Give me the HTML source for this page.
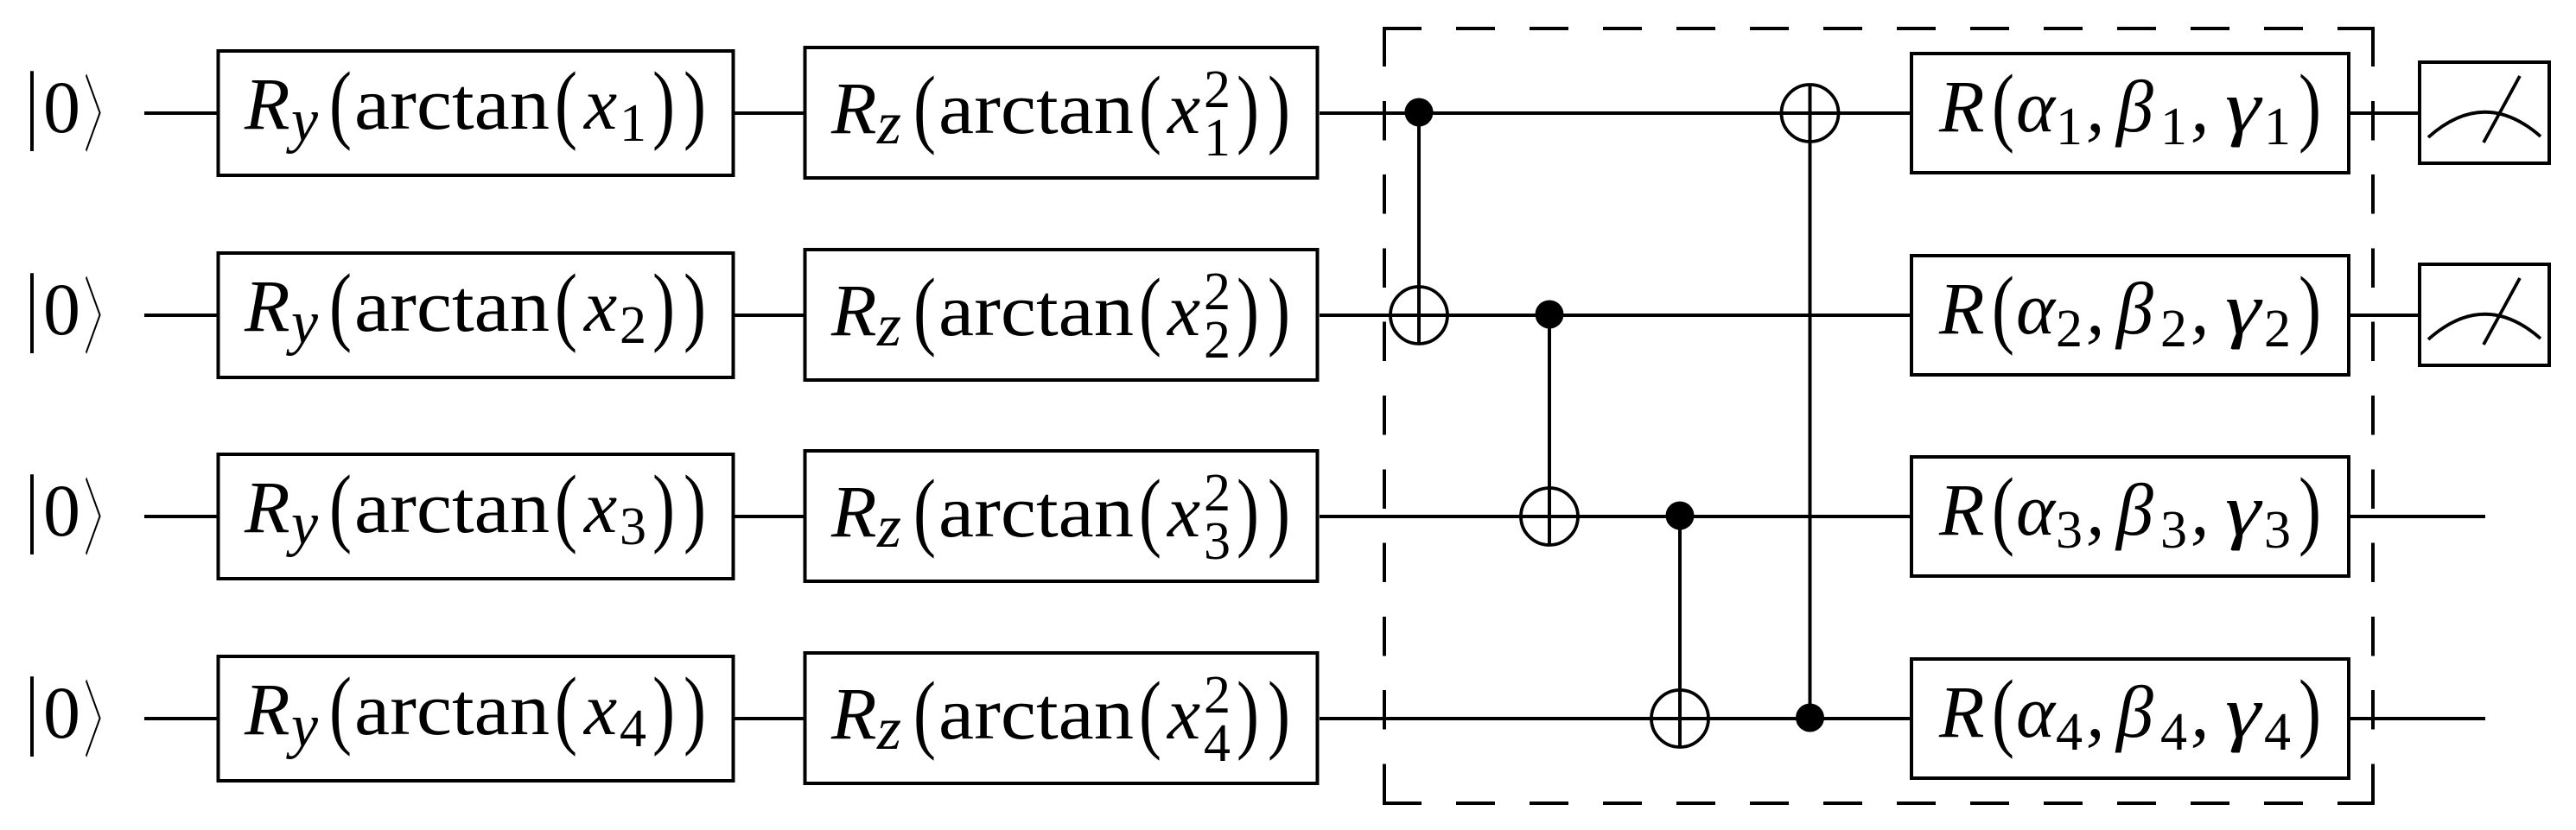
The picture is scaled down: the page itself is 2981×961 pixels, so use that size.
<!DOCTYPE html>
<html><head><meta charset="utf-8"><style>
html,body{margin:0;padding:0;background:#fff}
svg{display:block}
text{font-family:"Liberation Serif",serif;fill:#000}
.t{font-size:86px}
.i{font-size:86px;font-style:italic}
.s{font-size:62px}
.si{font-size:71px;font-style:italic}
.p{font-size:102px}
.k{font-size:96px;font-family:"Noto Serif CJK SC",serif}
.l{stroke:#000;stroke-width:3.8;fill:none}
.c{shape-rendering:crispEdges}
</style></head><body>
<svg width="2981" height="961" viewBox="0 0 2981 961" xmlns="http://www.w3.org/2000/svg">
<rect width="2981" height="961" fill="#fff"/>
<!-- wires -->
<path class="l c" d="M167 131H252M848 131H931M1527 131H2212M2718 131H2800
M167 365H252M848 365H931M1527 365H2212M2718 365H2800
M167 598H252M848 598H931M1527 598H2212M2718 598H2876
M167 832H252M848 832H931M1527 832H2212M2718 832H2876"/>
<!-- boxes -->
<g class="l c">
<rect x="252.5" y="59" width="596" height="144"/><rect x="252.5" y="293" width="596" height="144"/><rect x="252.5" y="526" width="596" height="144"/><rect x="252.5" y="760" width="596" height="144"/>
<rect x="931.5" y="55" width="593" height="151"/><rect x="931.5" y="289" width="593" height="151"/><rect x="931.5" y="522" width="593" height="151"/><rect x="931.5" y="756" width="593" height="151"/>
<rect x="2212" y="62" width="506" height="138"/><rect x="2212" y="296" width="506" height="138"/><rect x="2212" y="529" width="506" height="138"/><rect x="2212" y="763" width="506" height="138"/>
<rect x="2800" y="72" width="150" height="117"/><rect x="2800" y="306" width="150" height="117"/>
</g>
<!-- meters -->
<path class="l" d="M2810 159Q2875 101 2940 158M2874 165L2916 88"/>
<path class="l" d="M2810 393Q2875 335 2940 392M2874 399L2916 322"/>
<!-- dashed box -->
<g class="l c">
<path stroke-dasharray="45 40" d="M1600 33H2746"/>
<path stroke-dasharray="45 40" d="M1600 930H2746"/>
<path stroke-dasharray="45.5 39.8" d="M1602 31.5V932"/>
<path stroke-dasharray="45.5 39.8" d="M2746 31.5V932"/>
<path d="M2705 33H2746V77M2705 930H2746V886M1602 886V930H1645M1602 77V33H1645"/>
</g>
<!-- CNOTs -->
<path class="l c" d="M1642 131V399.5M1793 364V632.5M1944 598V866.5M2094.5 97V832"/>
<g class="l">
<circle cx="1642" cy="365" r="33"/>
<circle cx="1793" cy="598" r="33"/>
<circle cx="1944" cy="832" r="33"/>
<circle cx="2094.5" cy="131" r="33"/>
</g>
<circle cx="1642" cy="130" r="16.5"/><circle cx="1793" cy="364" r="16.5"/><circle cx="1944" cy="597" r="16.5"/><circle cx="2094.5" cy="831" r="16.5"/>

<!-- row 1 -->
<g>
<text class="p" x="29" y="153" textLength="16" lengthAdjust="spacingAndGlyphs">|</text><text class="t" x="50" y="153">0</text><text class="k" x="97.5" y="167" textLength="41" lengthAdjust="spacingAndGlyphs">〉</text>
<text class="i" x="283" y="149">R</text><text class="si" x="337" y="163" textLength="31" lengthAdjust="spacingAndGlyphs">y</text><text class="p" x="381" y="153" textLength="26" lengthAdjust="spacingAndGlyphs">(</text><text class="t" x="410" y="149" textLength="226" lengthAdjust="spacingAndGlyphs">arctan</text><text class="p" x="642" y="153" textLength="26" lengthAdjust="spacingAndGlyphs">(</text><text class="i" x="676" y="149">x</text><text class="s" x="717" y="163">1</text><text class="p" x="755" y="153" textLength="26" lengthAdjust="spacingAndGlyphs">)</text><text class="p" x="791" y="153" textLength="26" lengthAdjust="spacingAndGlyphs">)</text>
<text class="i" x="962" y="154">R</text><text class="si" x="1015" y="166" textLength="28" lengthAdjust="spacingAndGlyphs">z</text><text class="p" x="1057" y="158" textLength="26" lengthAdjust="spacingAndGlyphs">(</text><text class="t" x="1086" y="154" textLength="226" lengthAdjust="spacingAndGlyphs">arctan</text><text class="p" x="1318" y="158" textLength="26" lengthAdjust="spacingAndGlyphs">(</text><text class="i" x="1351" y="154">x</text><text class="s" x="1393" y="124">2</text><text class="s" x="1393" y="180">1</text><text class="p" x="1431" y="158" textLength="26" lengthAdjust="spacingAndGlyphs">)</text><text class="p" x="1467" y="158" textLength="26" lengthAdjust="spacingAndGlyphs">)</text>
<text class="i" x="2244" y="152">R</text><text class="p" x="2305" y="156" textLength="26" lengthAdjust="spacingAndGlyphs">(</text><text class="i" x="2333" y="152">α</text><text class="s" x="2379" y="167">1</text><text class="i" x="2414" y="152">,</text><text class="i" x="2449" y="152">β</text><text class="s" x="2500" y="167">1</text><text class="i" x="2535" y="152">,</text><text class="i" x="2575" y="152" textLength="41" lengthAdjust="spacingAndGlyphs">γ</text><text class="s" x="2620" y="167">1</text><text class="p" x="2660" y="156" textLength="26" lengthAdjust="spacingAndGlyphs">)</text>
</g>
<!-- row 2 -->
<g transform="translate(0,234)">
<text class="p" x="29" y="153" textLength="16" lengthAdjust="spacingAndGlyphs">|</text><text class="t" x="50" y="153">0</text><text class="k" x="97.5" y="167" textLength="41" lengthAdjust="spacingAndGlyphs">〉</text>
<text class="i" x="283" y="149">R</text><text class="si" x="337" y="163" textLength="31" lengthAdjust="spacingAndGlyphs">y</text><text class="p" x="381" y="153" textLength="26" lengthAdjust="spacingAndGlyphs">(</text><text class="t" x="410" y="149" textLength="226" lengthAdjust="spacingAndGlyphs">arctan</text><text class="p" x="642" y="153" textLength="26" lengthAdjust="spacingAndGlyphs">(</text><text class="i" x="676" y="149">x</text><text class="s" x="717" y="163">2</text><text class="p" x="755" y="153" textLength="26" lengthAdjust="spacingAndGlyphs">)</text><text class="p" x="791" y="153" textLength="26" lengthAdjust="spacingAndGlyphs">)</text>
<text class="i" x="962" y="154">R</text><text class="si" x="1015" y="166" textLength="28" lengthAdjust="spacingAndGlyphs">z</text><text class="p" x="1057" y="158" textLength="26" lengthAdjust="spacingAndGlyphs">(</text><text class="t" x="1086" y="154" textLength="226" lengthAdjust="spacingAndGlyphs">arctan</text><text class="p" x="1318" y="158" textLength="26" lengthAdjust="spacingAndGlyphs">(</text><text class="i" x="1351" y="154">x</text><text class="s" x="1393" y="124">2</text><text class="s" x="1393" y="180">2</text><text class="p" x="1431" y="158" textLength="26" lengthAdjust="spacingAndGlyphs">)</text><text class="p" x="1467" y="158" textLength="26" lengthAdjust="spacingAndGlyphs">)</text>
<text class="i" x="2244" y="152">R</text><text class="p" x="2305" y="156" textLength="26" lengthAdjust="spacingAndGlyphs">(</text><text class="i" x="2333" y="152">α</text><text class="s" x="2379" y="167">2</text><text class="i" x="2414" y="152">,</text><text class="i" x="2449" y="152">β</text><text class="s" x="2500" y="167">2</text><text class="i" x="2535" y="152">,</text><text class="i" x="2575" y="152" textLength="41" lengthAdjust="spacingAndGlyphs">γ</text><text class="s" x="2620" y="167">2</text><text class="p" x="2660" y="156" textLength="26" lengthAdjust="spacingAndGlyphs">)</text>
</g>
<!-- row 3 -->
<g transform="translate(0,467)">
<text class="p" x="29" y="153" textLength="16" lengthAdjust="spacingAndGlyphs">|</text><text class="t" x="50" y="153">0</text><text class="k" x="97.5" y="167" textLength="41" lengthAdjust="spacingAndGlyphs">〉</text>
<text class="i" x="283" y="149">R</text><text class="si" x="337" y="163" textLength="31" lengthAdjust="spacingAndGlyphs">y</text><text class="p" x="381" y="153" textLength="26" lengthAdjust="spacingAndGlyphs">(</text><text class="t" x="410" y="149" textLength="226" lengthAdjust="spacingAndGlyphs">arctan</text><text class="p" x="642" y="153" textLength="26" lengthAdjust="spacingAndGlyphs">(</text><text class="i" x="676" y="149">x</text><text class="s" x="717" y="163">3</text><text class="p" x="755" y="153" textLength="26" lengthAdjust="spacingAndGlyphs">)</text><text class="p" x="791" y="153" textLength="26" lengthAdjust="spacingAndGlyphs">)</text>
<text class="i" x="962" y="154">R</text><text class="si" x="1015" y="166" textLength="28" lengthAdjust="spacingAndGlyphs">z</text><text class="p" x="1057" y="158" textLength="26" lengthAdjust="spacingAndGlyphs">(</text><text class="t" x="1086" y="154" textLength="226" lengthAdjust="spacingAndGlyphs">arctan</text><text class="p" x="1318" y="158" textLength="26" lengthAdjust="spacingAndGlyphs">(</text><text class="i" x="1351" y="154">x</text><text class="s" x="1393" y="124">2</text><text class="s" x="1393" y="180">3</text><text class="p" x="1431" y="158" textLength="26" lengthAdjust="spacingAndGlyphs">)</text><text class="p" x="1467" y="158" textLength="26" lengthAdjust="spacingAndGlyphs">)</text>
<text class="i" x="2244" y="152">R</text><text class="p" x="2305" y="156" textLength="26" lengthAdjust="spacingAndGlyphs">(</text><text class="i" x="2333" y="152">α</text><text class="s" x="2379" y="167">3</text><text class="i" x="2414" y="152">,</text><text class="i" x="2449" y="152">β</text><text class="s" x="2500" y="167">3</text><text class="i" x="2535" y="152">,</text><text class="i" x="2575" y="152" textLength="41" lengthAdjust="spacingAndGlyphs">γ</text><text class="s" x="2620" y="167">3</text><text class="p" x="2660" y="156" textLength="26" lengthAdjust="spacingAndGlyphs">)</text>
</g>
<!-- row 4 -->
<g transform="translate(0,701)">
<text class="p" x="29" y="153" textLength="16" lengthAdjust="spacingAndGlyphs">|</text><text class="t" x="50" y="153">0</text><text class="k" x="97.5" y="167" textLength="41" lengthAdjust="spacingAndGlyphs">〉</text>
<text class="i" x="283" y="149">R</text><text class="si" x="337" y="163" textLength="31" lengthAdjust="spacingAndGlyphs">y</text><text class="p" x="381" y="153" textLength="26" lengthAdjust="spacingAndGlyphs">(</text><text class="t" x="410" y="149" textLength="226" lengthAdjust="spacingAndGlyphs">arctan</text><text class="p" x="642" y="153" textLength="26" lengthAdjust="spacingAndGlyphs">(</text><text class="i" x="676" y="149">x</text><text class="s" x="717" y="163">4</text><text class="p" x="755" y="153" textLength="26" lengthAdjust="spacingAndGlyphs">)</text><text class="p" x="791" y="153" textLength="26" lengthAdjust="spacingAndGlyphs">)</text>
<text class="i" x="962" y="154">R</text><text class="si" x="1015" y="166" textLength="28" lengthAdjust="spacingAndGlyphs">z</text><text class="p" x="1057" y="158" textLength="26" lengthAdjust="spacingAndGlyphs">(</text><text class="t" x="1086" y="154" textLength="226" lengthAdjust="spacingAndGlyphs">arctan</text><text class="p" x="1318" y="158" textLength="26" lengthAdjust="spacingAndGlyphs">(</text><text class="i" x="1351" y="154">x</text><text class="s" x="1393" y="124">2</text><text class="s" x="1393" y="180">4</text><text class="p" x="1431" y="158" textLength="26" lengthAdjust="spacingAndGlyphs">)</text><text class="p" x="1467" y="158" textLength="26" lengthAdjust="spacingAndGlyphs">)</text>
<text class="i" x="2244" y="152">R</text><text class="p" x="2305" y="156" textLength="26" lengthAdjust="spacingAndGlyphs">(</text><text class="i" x="2333" y="152">α</text><text class="s" x="2379" y="167">4</text><text class="i" x="2414" y="152">,</text><text class="i" x="2449" y="152">β</text><text class="s" x="2500" y="167">4</text><text class="i" x="2535" y="152">,</text><text class="i" x="2575" y="152" textLength="41" lengthAdjust="spacingAndGlyphs">γ</text><text class="s" x="2620" y="167">4</text><text class="p" x="2660" y="156" textLength="26" lengthAdjust="spacingAndGlyphs">)</text>
</g>
</svg>
</body></html>
